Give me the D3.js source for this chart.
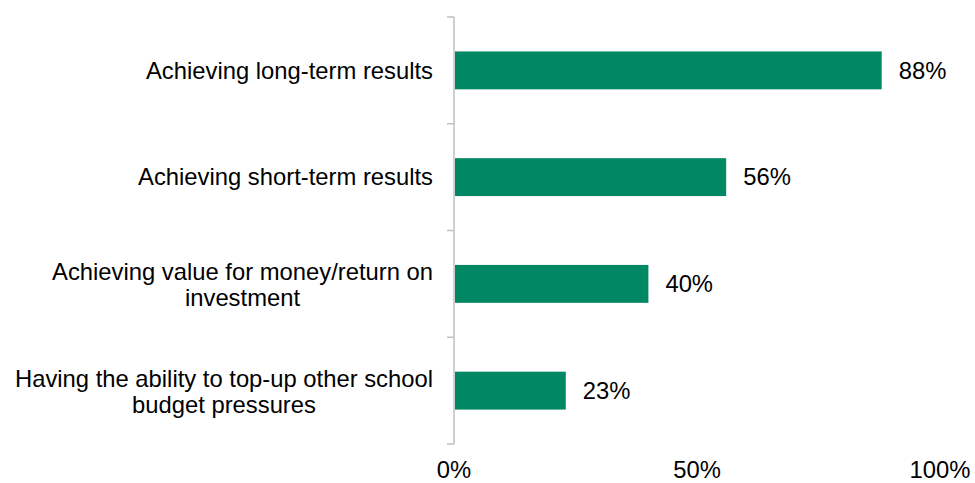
<!DOCTYPE html>
<html>
<head>
<meta charset="utf-8">
<script src="https://cdn.jsdelivr.net/npm/d3@7"></script>
<style>
  html, body { margin: 0; padding: 0; background: #fff; }
  svg text { font-family: "Liberation Sans", Arial, sans-serif; fill: #000; }
</style>
</head>
<body>
<svg id="chart" width="975" height="483"></svg>
<script>
// Category labels (each entry is a list of wrapped lines) and their shares
const categories = [
  ["Achieving long-term results"],
  ["Achieving short-term results"],
  ["Achieving value for money/return on", "investment"],
  ["Having the ability to top-up other school", "budget pressures"]
];
const values = [88, 56, 40, 23];
const xTicks = [0, 50, 100];

const svg = d3.select("#chart");
const fontSize = 23.8;
const lineHeight = 26;

const x = d3.scaleLinear().domain([0, 100]).range([454, 940]);
const y = d3.scaleBand()
  .domain(d3.range(categories.length))
  .range([17, 444])
  .paddingInner(0.645)
  .paddingOuter(0.3225);

// Category boundaries for the left axis tick marks
const bandStep = (444 - 17) / categories.length;
const boundaries = d3.range(categories.length + 1).map(i => 17 + i * bandStep);

const axisColor = "#c0c0c0";

// Vertical axis line and boundary ticks
svg.append("line")
  .attr("x1", x(0)).attr("x2", x(0))
  .attr("y1", boundaries[0]).attr("y2", boundaries[boundaries.length - 1])
  .attr("stroke", axisColor).attr("stroke-width", 1.5);

svg.selectAll("line.tick")
  .data(boundaries)
  .join("line")
  .attr("class", "tick")
  .attr("x1", x(0) - 7).attr("x2", x(0))
  .attr("y1", d => d).attr("y2", d => d)
  .attr("stroke", axisColor).attr("stroke-width", 1.5);

// Bars
svg.selectAll("rect.bar")
  .data(values)
  .join("rect")
  .attr("class", "bar")
  .attr("x", x(0) + 1)
  .attr("y", (d, i) => y(i))
  .attr("width", d => x(d) - x(0) - 1)
  .attr("height", y.bandwidth())
  .attr("fill", "#008763");

// Value labels
svg.selectAll("text.value")
  .data(values)
  .join("text")
  .attr("class", "value")
  .attr("x", d => x(d) + 17)
  .attr("y", (d, i) => y(i) + y.bandwidth() / 2)
  .attr("dy", "0.35em")
  .attr("font-size", fontSize)
  .text(d => d + "%");

// Category labels: lines centred within a right-aligned block
const labelRight = 433;
categories.forEach((lines, i) => {
  const g = svg.append("g");
  const texts = lines.map((line, j) =>
    g.append("text")
      .attr("font-size", fontSize)
      .attr("text-anchor", "middle")
      .attr("y", y(i) + y.bandwidth() / 2 + (j - (lines.length - 1) / 2) * lineHeight + (lines.length > 1 ? 1 : 0))
      .attr("dy", "0.35em")
      .text(line)
  );
  const w = d3.max(texts, t => t.node().getComputedTextLength());
  texts.forEach(t => t.attr("x", labelRight - w / 2));
});

// X axis tick labels
svg.selectAll("text.xtick")
  .data(xTicks)
  .join("text")
  .attr("class", "xtick")
  .attr("x", d => x(d))
  .attr("y", 478)
  .attr("text-anchor", "middle")
  .attr("font-size", fontSize)
  .text(d => d + "%");
</script>
</body>
</html>
